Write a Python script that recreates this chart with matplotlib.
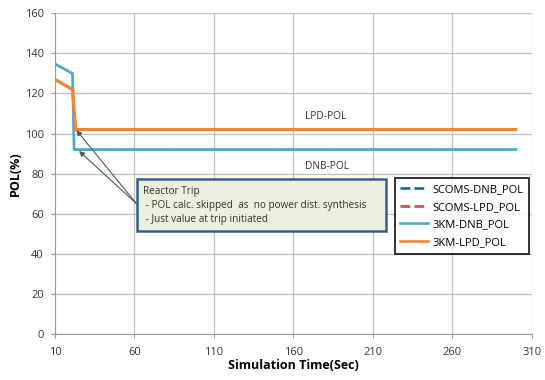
import numpy as np
from matplotlib import pyplot as plt
from matplotlib.patches import FancyBboxPatch

plt.rcParams['font.family'] = ['Open Sans', 'DejaVu Sans']

# time points (sec) and POL values (%)
time_dnb = [10, 21, 22, 300]
time_lpd = [10, 21, 23, 300]
dnb_3km = [134.7, 130, 92, 92]
lpd_3km = [127, 122, 102, 102]
dnb_scoms = [134.7, 130, 92, 92]
lpd_scoms = [127, 122, 102, 102]

x_ticks = [10, 60, 110, 160, 210, 260, 310]
y_ticks = [0, 20, 40, 60, 80, 100, 120, 140, 160]

fig = plt.figure(figsize=(5.45, 3.8), dpi=100)
ax = fig.add_axes([0.101, 0.121, 0.8746, 0.844])

# dashed SCOMS lines lie under the solid 3KM ones
ax.plot(time_dnb, dnb_scoms, '--', color='#1F5FA8', lw=1.2, label='SCOMS-DNB_POL', zorder=2)
ax.plot(time_lpd, lpd_scoms, '--', color='#C0504D', lw=1.2, label='SCOMS-LPD_POL', zorder=2)
ax.plot(time_dnb, dnb_3km, '-', color='#4BACC6', lw=2.0, label='3KM-DNB_POL', zorder=3)
ax.plot(time_lpd, lpd_3km, '-', color='#F0862F', lw=2.3, label='3KM-LPD_POL', zorder=4)

ax.set_xlim(10, 310)
ax.set_ylim(0, 160)
ax.set_xticks(x_ticks)
ax.set_yticks(y_ticks)
ax.tick_params(labelsize=8, colors='#333333', length=3, color='#999999')
ax.tick_params(axis='x', pad=6)
ax.tick_params(axis='y', pad=5)
ax.grid(True, color='#BFBFBF', lw=0.9)
ax.set_axisbelow(True)
for side in ['top', 'right']:
    ax.spines[side].set_visible(False)
for side in ['left', 'bottom']:
    ax.spines[side].set_color('#999999')

ax.set_xlabel('Simulation Time(Sec)', fontsize=9, fontweight='bold', labelpad=1)
ax.set_ylabel('POL(%)', fontsize=9, fontweight='bold', labelpad=2)

ax.text(180, 108.7, 'LPD-POL', fontsize=7.3, ha='center', va='center', color='#333333')
ax.text(181, 83.8, 'DNB-POL', fontsize=7.3, ha='center', va='center', color='#333333')

# annotation box
box = FancyBboxPatch((61.3, 51.2), 157.3, 26, boxstyle='square,pad=0',
                     fc='#EBF1DE', ec='#385D8A', lw=1.8, zorder=5)
ax.add_patch(box)
ax.text(65.6, 71.3, 'Reactor Trip', fontsize=7.2, va='center', color='#333333', zorder=6)
ax.text(65.6, 64.3, ' - POL calc. skipped  as  no power dist. synthesis', fontsize=7.2,
        va='center', color='#333333', zorder=6)
ax.text(65.6, 57.1, ' - Just value at trip initiated', fontsize=7.2, va='center',
        color='#333333', zorder=6)

for target in [(23.4, 101.7), (25.1, 91.3)]:
    ax.annotate('', xy=target, xytext=(61.3, 65),
                arrowprops=dict(arrowstyle='-|>', color='#555555', lw=0.8,
                                mutation_scale=8, shrinkA=0, shrinkB=0), zorder=4)

leg = ax.legend(loc='upper left', bbox_to_anchor=(0.713, 0.485), fontsize=8,
                frameon=True, fancybox=False, handlelength=2.5, labelspacing=0.6,
                borderpad=0.5, handletextpad=0.4, borderaxespad=0)
leg.get_frame().set_edgecolor('black')
leg.get_frame().set_linewidth(1.4)
leg.set_zorder(10)
for line in leg.get_lines():
    line.set_linewidth(1.9)

fig.savefig('out.png', dpi=100)
